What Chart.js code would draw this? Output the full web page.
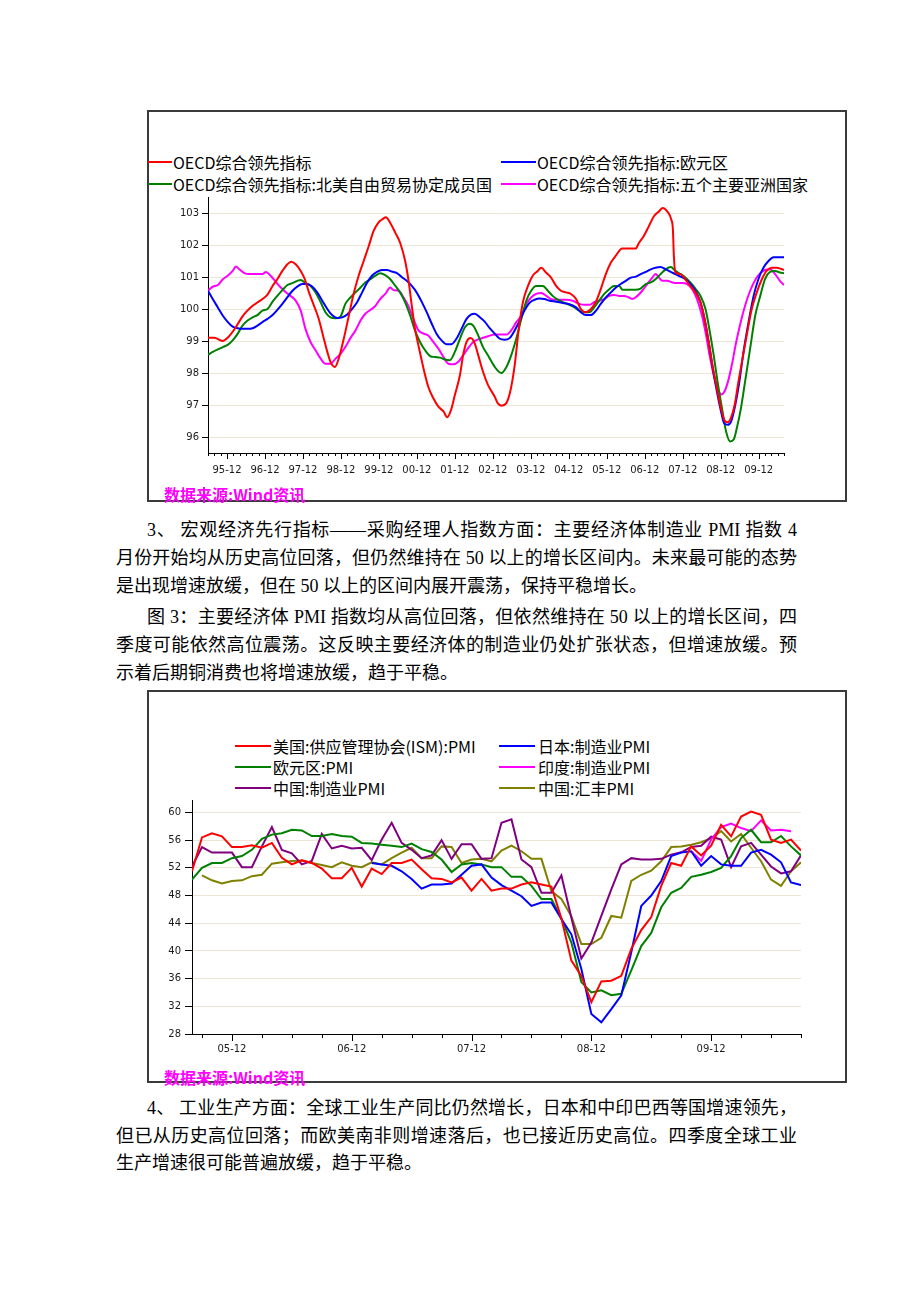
<!DOCTYPE html>
<html>
<head>
<meta charset="utf-8">
<script src="https://cdn.jsdelivr.net/npm/chart.js@4.4.1/dist/chart.umd.min.js"></script>
<style>
  body { margin: 0; background: #fff; }
  .page { position: relative; width: 920px; height: 1302px; overflow: hidden; }
  .frame { position: absolute; left: 147px; width: 696px; border: 2px solid #3a3a3a; }
  .ln { position: absolute; height: 28px; line-height: 28px; font-size: 18px; white-space: nowrap; color: #000;
        font-family: "Liberation Serif", "Noto Sans CJK SC", serif; }
  .ln.j { text-align: justify; text-align-last: justify; }
  .lg { position: absolute; height: 20px; line-height: 20px; font-size: 16px; white-space: nowrap; color: #000;
        font-family: "Noto Sans CJK SC", sans-serif; }
  .sw { position: absolute; height: 2px; }
  .src { position: absolute; left: 164px; height: 20px; line-height: 20px; font: bold 16px "Noto Sans CJK SC", sans-serif; color: #f0f; }
  canvas { position: absolute; }
</style>
</head>
<body>
<div class="page">
  <!-- chart 1 -->
  <div class="frame" style="top:110px;height:388px"></div>
  <div class="sw" style="left:148px;top:161px;width:24px;background:#f00"></div>
  <div class="lg" style="left:173px;top:152px">OECD综合领先指标</div>
  <div class="sw" style="left:501px;top:161px;width:35px;background:#00f"></div>
  <div class="lg" style="left:537px;top:152px">OECD综合领先指标:欧元区</div>
  <div class="sw" style="left:148px;top:183px;width:24px;background:#008000"></div>
  <div class="lg" style="left:173px;top:174px">OECD综合领先指标:北美自由贸易协定成员国</div>
  <div class="sw" style="left:501px;top:183px;width:35px;background:#f0f"></div>
  <div class="lg" style="left:537px;top:174px">OECD综合领先指标:五个主要亚洲国家</div>
  <canvas id="oecdChart" width="645" height="300" style="left:150px;top:188px"></canvas>
  <div class="src" style="top:482px">数据来源:Wind资讯</div>

  <div class="ln j" style="left:147px;top:516px;width:650px">3、 宏观经济先行指标——采购经理人指数方面：主要经济体制造业 PMI 指数 4</div>
  <div class="ln j" style="left:116px;top:544px;width:681px">月份开始均从历史高位回落，但仍然维持在 50 以上的增长区间内。未来最可能的态势</div>
  <div class="ln" style="left:116px;top:572px">是出现增速放缓，但在 50 以上的区间内展开震荡，保持平稳增长。</div>
  <div class="ln j" style="left:147px;top:603px;width:650px">图 3：主要经济体 PMI 指数均从高位回落，但依然维持在 50 以上的增长区间，四</div>
  <div class="ln j" style="left:116px;top:631px;width:681px">季度可能依然高位震荡。这反映主要经济体的制造业仍处扩张状态，但增速放缓。预</div>
  <div class="ln" style="left:116px;top:659px">示着后期铜消费也将增速放缓，趋于平稳。</div>

  <!-- chart 2 -->
  <div class="frame" style="top:690px;height:389px"></div>
  <div class="sw" style="left:235px;top:745px;width:36px;background:#f00"></div>
  <div class="lg" style="left:273px;top:736px">美国:供应管理协会(ISM):PMI</div>
  <div class="sw" style="left:499px;top:745px;width:36px;background:#00f"></div>
  <div class="lg" style="left:538px;top:736px">日本:制造业PMI</div>
  <div class="sw" style="left:235px;top:766px;width:36px;background:#008000"></div>
  <div class="lg" style="left:273px;top:757px">欧元区:PMI</div>
  <div class="sw" style="left:499px;top:766px;width:36px;background:#f0f"></div>
  <div class="lg" style="left:538px;top:757px">印度:制造业PMI</div>
  <div class="sw" style="left:235px;top:787px;width:36px;background:#800080"></div>
  <div class="lg" style="left:273px;top:778px">中国:制造业PMI</div>
  <div class="sw" style="left:499px;top:787px;width:36px;background:#808000"></div>
  <div class="lg" style="left:538px;top:778px">中国:汇丰PMI</div>
  <canvas id="pmiChart" width="660" height="270" style="left:150px;top:790px"></canvas>
  <div class="src" style="top:1065px">数据来源:Wind资讯</div>

  <div class="ln j" style="left:147px;top:1094px;width:650px">4、 工业生产方面：全球工业生产同比仍然增长，日本和中印巴西等国增速领先，</div>
  <div class="ln j" style="left:116px;top:1122px;width:681px">但已从历史高位回落；而欧美南非则增速落后，也已接近历史高位。四季度全球工业</div>
  <div class="ln" style="left:116px;top:1149px">生产增速很可能普遍放缓，趋于平稳。</div>
</div>

<script>
// chart 1: OECD composite leading indicators, [months since 1995-06, value]
const oecdTickLabels = ['95-12', '96-12', '97-12', '98-12', '99-12', '00-12', '01-12', '02-12',
  '03-12', '04-12', '05-12', '06-12', '07-12', '08-12', '09-12'];
const oecdYTicks = [96, 97, 98, 99, 100, 101, 102, 103];

const oecdTotal = [[0,99.1],[2,99.1],[4.6,99.0],[6.2,99.1],[8.8,99.43],[10.7,99.74],[12,99.9],[14.1,100.1],[15.7,100.21],[17.2,100.31],[18.8,100.45],[20.4,100.72],[21.9,100.93],[23.5,101.19],[25.1,101.4],[26.3,101.48],[27.7,101.4],[29.3,101.19],[30.6,100.93],[31.9,100.52],[33.5,100.1],[35,99.69],[36.6,99.07],[37.7,98.66],[38.7,98.35],[40.1,98.19],[41.3,98.45],[42.9,99.07],[44.5,99.79],[46,100.47],[47.6,101.04],[49.2,101.5],[50.8,101.97],[52.3,102.43],[53.9,102.71],[55.2,102.81],[56.2,102.87],[57.6,102.69],[59.2,102.38],[60.7,102.07],[62.3,101.5],[63.3,100.93],[64.4,100.1],[65.4,99.38],[66.5,98.86],[68.1,98.14],[69.6,97.57],[71.2,97.21],[72.8,96.95],[74.4,96.8],[75.6,96.62],[76.8,96.85],[78,97.31],[79.6,97.93],[80.6,98.55],[81.7,98.97],[83,99.09],[84.3,98.92],[85.4,98.55],[86.9,98.04],[88.5,97.62],[90.6,97.26],[91.6,97.05],[92.7,96.98],[94.2,97.05],[95.5,97.42],[96.9,98.24],[98.2,99.38],[99.5,100.21],[101.1,100.72],[102.6,101.04],[104.2,101.19],[105.3,101.29],[106.8,101.14],[108.4,100.98],[110,100.72],[111.5,100.57],[113.1,100.52],[114.7,100.47],[116.3,100.31],[117.8,100.0],[119.4,99.9],[121,100.0],[122.5,100.21],[124.1,100.62],[125.7,101.09],[127.3,101.45],[128.8,101.66],[130.9,101.89],[133,101.89],[135.1,101.89],[136.2,102.07],[137.7,102.28],[139.3,102.59],[140.9,102.9],[142.5,103.05],[143.7,103.16],[145.1,103.05],[146.4,102.79],[146.9,102.48],[147.2,101.66],[147.7,101.14],[149.3,101.09],[150.8,100.93],[152.4,100.72],[154,100.52],[155.6,100.21],[156.9,99.69],[158.2,98.97],[159.4,98.24],[160.8,97.52],[162.1,96.9],[163.1,96.54],[164.2,96.46],[165.2,96.59],[166.4,97.0],[167.6,97.73],[168.9,98.45],[170.2,99.17],[171.8,100.0],[173.4,100.52],[175,100.93],[176.5,101.19],[178.1,101.29],[179.7,101.29],[181.2,101.25],[182,101.22]];

const oecdEuro = [[0,100.57],[1.5,100.31],[3.1,100.05],[4.7,99.79],[6.2,99.6],[7.8,99.45],[9.4,99.4],[10.9,99.38],[12.5,99.38],[14.1,99.4],[15.6,99.48],[17.2,99.59],[18.8,99.69],[20.4,99.81],[21.9,99.97],[23.5,100.16],[25.1,100.37],[26.7,100.57],[28.2,100.7],[29.8,100.78],[31.4,100.78],[32.9,100.7],[34.5,100.52],[36.1,100.26],[37.7,100.0],[39.2,99.81],[40.8,99.72],[42.4,99.74],[44,99.83],[45.5,100.0],[47.1,100.21],[48.7,100.52],[50.2,100.81],[51.8,101.04],[53.4,101.16],[54.9,101.22],[56.5,101.22],[58.1,101.17],[59.7,101.12],[61.2,101.0],[62.8,100.88],[64.4,100.72],[65.9,100.52],[67.5,100.23],[69.1,99.9],[70.7,99.54],[72.2,99.23],[73.8,99.02],[75.4,98.9],[76.9,98.9],[78.5,99.07],[80.1,99.38],[81.7,99.69],[83.2,99.83],[84.3,99.85],[85.9,99.74],[87.5,99.6],[89,99.4],[90.6,99.23],[92.2,99.07],[93.7,99.04],[95.3,99.09],[96.9,99.33],[98.5,99.64],[100,99.95],[101.6,100.19],[103.2,100.29],[104.8,100.33],[106.3,100.31],[107.9,100.26],[110,100.23],[112.1,100.19],[114.2,100.15],[116.3,100.05],[117.8,99.9],[119.4,99.81],[121,99.81],[122.6,99.95],[124.1,100.16],[125.7,100.36],[127.3,100.52],[128.9,100.67],[130.4,100.78],[132,100.88],[133.6,100.98],[135.2,101.01],[136.7,101.09],[138.3,101.16],[139.9,101.24],[141.4,101.29],[143,101.31],[144.6,101.24],[146.2,101.16],[147.7,101.09],[149.3,101.01],[150.9,100.93],[152.5,100.78],[154,100.57],[155.6,100.21],[156.9,99.69],[158.2,98.97],[159.5,98.14],[160.8,97.42],[162.1,96.8],[163.1,96.43],[164.2,96.38],[165.3,96.49],[166.6,97.0],[167.9,97.73],[169.2,98.66],[170.8,99.59],[172.4,100.41],[173.9,100.93],[175.5,101.29],[177.1,101.5],[178.7,101.62],[180.2,101.62],[182,101.62]];

const oecdNafta = [[0,98.57],[1.5,98.66],[3.1,98.74],[4.7,98.81],[6.2,98.88],[7.8,99.02],[9.4,99.23],[10.9,99.48],[12.5,99.64],[14.1,99.74],[15.6,99.81],[17.2,99.95],[18.8,100.0],[20.4,100.23],[21.9,100.41],[23.5,100.59],[25.1,100.75],[26.7,100.81],[28.2,100.88],[29.3,100.91],[30.8,100.81],[32.4,100.72],[34,100.52],[35.6,100.21],[37.1,99.9],[38.7,99.74],[40.3,99.71],[41.9,99.77],[43.4,100.16],[45,100.36],[46.6,100.52],[48.2,100.67],[49.7,100.83],[51.3,100.93],[52.9,101.04],[54.4,101.12],[56,101.06],[57.6,100.93],[59.2,100.72],[60.7,100.52],[62.3,100.21],[63.9,99.79],[65.4,99.33],[67,98.97],[68.6,98.71],[70.2,98.53],[71.7,98.5],[73.3,98.48],[74.9,98.42],[76.4,98.4],[78,98.66],[79.6,99.07],[81.2,99.43],[82.7,99.54],[83.8,99.48],[85.4,99.17],[86.9,98.81],[88.5,98.55],[90.6,98.19],[92.7,98.0],[94.3,98.19],[95.8,98.55],[97.4,99.07],[99,99.69],[100.6,100.26],[102.1,100.57],[103.7,100.72],[105.8,100.72],[107.4,100.57],[108.9,100.41],[110.5,100.29],[112.1,100.21],[114.2,100.13],[115.8,100.05],[117.3,99.95],[118.9,99.9],[120.5,99.9],[122,100.05],[123.6,100.26],[125.2,100.47],[126.8,100.62],[128.3,100.72],[129.9,100.72],[131,100.6],[133,100.6],[135.1,100.6],[136.7,100.64],[138.3,100.78],[139.9,100.83],[141.4,100.93],[143,101.09],[144.6,101.24],[146.2,101.31],[147.7,101.19],[149.3,101.09],[150.9,100.98],[152.4,100.83],[154,100.64],[155.6,100.41],[157.2,100.0],[158.4,99.38],[159.8,98.55],[161,97.73],[162.4,96.9],[163.7,96.17],[165,95.86],[166.1,95.92],[167.1,96.28],[168.4,96.9],[169.7,97.73],[171.3,98.76],[172.9,99.79],[174.5,100.41],[176,100.93],[177.6,101.16],[179.2,101.19],[180.7,101.14],[182,101.12]];

const oecdAsia = [[0,100.57],[1.5,100.7],[3.1,100.75],[4.7,100.93],[6.2,101.04],[7.8,101.19],[8.8,101.33],[9.9,101.24],[11.5,101.12],[13,101.09],[15.1,101.09],[17.2,101.09],[18.3,101.16],[19.8,101.04],[21.4,100.85],[23,100.67],[24.6,100.52],[26.1,100.41],[27.7,100.26],[29.3,99.95],[30.8,99.38],[32.4,98.97],[34,98.71],[35.6,98.45],[37.1,98.29],[38.7,98.29],[40.3,98.45],[41.9,98.6],[43.4,98.81],[45,99.09],[46.6,99.33],[48.2,99.64],[49.7,99.85],[51.3,99.97],[52.9,100.1],[54.4,100.31],[56,100.47],[57.6,100.67],[58.6,100.59],[60.2,100.57],[61.8,100.36],[63.3,100.1],[64.9,99.69],[66.5,99.33],[68.1,99.23],[69.6,99.17],[71.2,98.97],[72.8,98.76],[74.4,98.5],[75.9,98.29],[77.5,98.27],[79.1,98.35],[80.6,98.55],[82.2,98.78],[83.8,98.97],[85.4,99.05],[86.9,99.1],[88.5,99.15],[90.6,99.2],[92.2,99.2],[94.3,99.2],[95.8,99.33],[97.4,99.59],[99,99.79],[100.6,100.16],[102.1,100.36],[103.7,100.47],[105.3,100.5],[106.9,100.41],[108.4,100.31],[110,100.29],[113.1,100.29],[115.2,100.26],[117.3,100.16],[118.9,100.13],[120.5,100.13],[122,100.21],[123.6,100.26],[125.2,100.31],[126.8,100.41],[128.3,100.44],[129.9,100.41],[131.5,100.41],[133,100.36],[134.1,100.31],[135.7,100.41],[137.2,100.57],[138.8,100.78],[140.4,100.98],[141.4,101.09],[142.5,100.98],[143.5,100.88],[145.1,100.88],[146.7,100.83],[148.3,100.81],[149.8,100.81],[151.4,100.78],[153,100.62],[154.5,100.31],[156.1,99.79],[157.4,99.17],[158.5,98.55],[159.8,97.93],[161.2,97.47],[162.2,97.33],[163.2,97.42],[164.3,97.73],[165.5,98.24],[166.8,98.92],[168.2,99.54],[169.7,100.1],[171.3,100.57],[172.9,100.91],[174.5,101.12],[176,101.22],[177.6,101.24],[179.2,101.09],[180.7,100.88],[182,100.75]];

// chart 2: manufacturing PMI, one value per month from 2005-08 to 2010-09
const pmiTickLabels = ['05-12', '06-12', '07-12', '08-12', '09-12'];
const pmiYTicks = [28, 32, 36, 40, 44, 48, 52, 56, 60];

const usIsm = [51.5,56.4,57.0,56.55,55.0,55.0,55.25,54.9,55.6,53.45,52.5,53.1,52.7,51.9,50.5,50.5,
  52.0,49.3,51.9,51.1,52.7,52.7,53.2,51.8,50.5,50.4,49.9,50.6,48.7,50.4,48.7,
  49.0,49.0,49.6,49.9,49.6,49.3,44.7,38.6,36.4,32.6,35.6,35.7,36.4,40.3,43.0,44.9,
  49.4,52.7,52.3,55.1,53.8,55.2,58.2,56.55,59.4,60.14,59.66,56.07,55.6,56.07,54.5];
const japanPmi = [null,null,null,null,null,null,null,null,null,null,null,null,null,null,null,null,null,null,
  52.7,52.5,52.3,51.5,50.4,49.0,49.6,49.6,49.75,51.0,52.3,52.5,50.6,
  49.5,48.7,47.9,46.5,47.0,47.0,44.6,42.4,37.4,30.9,29.7,31.6,33.6,39.8,46.5,48.0,
  50.1,53.7,54.2,54.4,52.3,53.7,52.5,52.3,52.3,54.2,54.6,53.9,52.8,49.9,49.5];
const euroPmi = [50.3,52.0,52.7,52.7,53.4,53.7,54.6,56.2,56.8,57.0,57.5,57.4,56.6,56.6,56.9,56.6,
  56.5,55.6,55.5,55.35,55.2,55.0,55.5,54.7,54.3,53.2,51.4,52.5,52.7,52.5,52.1,
  52.1,50.7,50.7,49.4,47.5,47.5,44.7,41.2,35.5,34.0,34.3,33.6,33.8,37.2,40.7,42.6,
  46.3,48.4,49.1,50.7,51.0,51.4,52.0,53.7,56.3,57.5,55.7,55.7,56.6,55.1,53.8];
const indiaPmi = [null,null,null,null,null,null,null,null,null,null,null,null,null,null,null,null,null,null,null,null,
  null,null,null,null,null,null,null,null,null,null,null,null,null,null,null,null,null,null,null,null,
  null,null,null,null,null,null,null,null,null,null,
  54.4,53.0,56.1,57.9,58.4,57.75,57.3,58.85,57.4,57.5,57.3,null];
const chinaPmi = [52.2,55.0,54.2,54.2,54.2,52.1,52.1,55.1,57.9,54.6,54.1,52.5,53.0,56.9,54.8,55.2,
  54.8,54.9,53.1,56.1,58.5,55.6,54.6,53.4,53.8,56.0,53.3,55.4,55.4,53.3,53.4,
  58.5,59.0,53.2,52.1,48.4,48.4,50.9,44.8,38.9,41.2,45.05,48.9,52.5,53.4,53.2,53.2,
  53.3,53.9,54.25,55.0,55.2,56.5,56.1,52.1,55.1,55.6,53.9,52.2,51.2,51.5,53.8];
const hsbcPmi = [null,50.9,50.2,49.75,50.1,50.2,50.8,51.0,52.6,52.8,53.0,53.05,52.7,52.4,52.1,52.8,
  52.3,52.1,52.8,52.5,53.4,54.2,54.9,53.4,53.4,55.1,55.0,52.7,53.2,53.3,52.95,
  54.5,55.2,54.4,53.3,53.3,48.6,47.5,45.0,41.0,41.0,41.9,45.05,44.8,50.1,51.0,51.6,
  52.95,55.0,55.1,55.35,55.7,56.3,57.3,55.8,56.9,54.9,52.95,50.3,49.4,51.5,52.8];

Chart.defaults.font.family = '"DejaVu Sans", sans-serif';
Chart.defaults.font.size = 10;
Chart.defaults.color = '#1a1a1a';

// short ticks under the x axis, longer where a label sits
const tickMarks = {
  id: 'tickMarks',
  afterDraw(chart, args, opts) {
    const sx = chart.scales.x;
    const ctx = chart.ctx;
    ctx.save();
    ctx.strokeStyle = '#000';
    ctx.lineWidth = 1;
    sx.ticks.forEach(t => {
      const px = Math.round(sx.getPixelForValue(t.value)) + 0.5;
      const len = t.label ? opts.major : opts.minor;
      ctx.beginPath();
      ctx.moveTo(px, sx.top);
      ctx.lineTo(px, sx.top + len);
      ctx.stroke();
    });
    ctx.restore();
  }
};

function toPoints(pairs) {
  return pairs.map(p => ({ x: p[0], y: p[1] }));
}

function monthly(values) {
  return values.map((v, i) => ({ x: i, y: v }));
}

function lineSet(label, data, color, extra) {
  return Object.assign({
    label: label,
    data: data,
    borderColor: color,
    backgroundColor: color,
    borderWidth: 2,
    pointRadius: 0,
    fill: false
  }, extra || {});
}

function buildChart(canvas, cfg) {
  return new Chart(canvas.getContext('2d'), {
    type: 'line',
    data: { datasets: cfg.datasets },
    plugins: [tickMarks],
    options: {
      responsive: false,
      animation: false,
      layout: { padding: cfg.padding },
      plugins: {
        legend: { display: false },
        tooltip: { enabled: false },
        tickMarks: cfg.marks
      },
      scales: {
        x: {
          type: 'linear',
          min: cfg.xMin,
          max: cfg.xMax,
          grid: { display: false, drawTicks: false },
          border: { display: true, color: '#000', width: 1 },
          ticks: {
            autoSkip: false,
            maxRotation: 0,
            padding: cfg.xPad,
            callback: v => cfg.xLabel(v)
          },
          afterBuildTicks: s => { s.ticks = cfg.xTicks.map(v => ({ value: v })); },
          afterFit: s => { s.height = cfg.xHeight; }
        },
        y: {
          min: cfg.yMin,
          max: cfg.yMax,
          grid: { color: '#ede6d6', lineWidth: 1, tickColor: '#000', tickLength: cfg.yTick },
          border: { display: true, color: '#000', width: 1 },
          ticks: { padding: cfg.yPad },
          afterBuildTicks: s => { s.ticks = cfg.yTicks.map(v => ({ value: v })); },
          afterFit: s => { s.width = cfg.yWidth; }
        }
      }
    }
  });
}

const oecdXTicks = [];
for (let m = 0; m <= 182; m += 2) oecdXTicks.push(m);

buildChart(document.getElementById('oecdChart'), {
  datasets: [
    lineSet('OECD综合领先指标', toPoints(oecdTotal), '#ff0000', { cubicInterpolationMode: 'monotone' }),
    lineSet('OECD综合领先指标:欧元区', toPoints(oecdEuro), '#0000ff', { cubicInterpolationMode: 'monotone' }),
    lineSet('OECD综合领先指标:北美自由贸易协定成员国', toPoints(oecdNafta), '#008000', { cubicInterpolationMode: 'monotone' }),
    lineSet('OECD综合领先指标:五个主要亚洲国家', toPoints(oecdAsia), '#ff00ff', { cubicInterpolationMode: 'monotone' })
  ],
  padding: { left: 0, right: 9, top: 7, bottom: 5 },
  xMin: 0, xMax: 182, xTicks: oecdXTicks, xPad: 11, xHeight: 30,
  xLabel: v => ((v - 6) % 12 === 0 ? oecdTickLabels[(v - 6) / 12] : ''),
  yMin: 95.5, yMax: 103.5, yTicks: oecdYTicks, yTick: 6, yPad: 3, yWidth: 58,
  marks: { minor: 3, major: 6 }
});

const pmiXTicks = [];
for (let m = 1; m <= 61; m += 3) pmiXTicks.push(m);

buildChart(document.getElementById('pmiChart'), {
  datasets: [
    lineSet('美国:供应管理协会(ISM):PMI', monthly(usIsm), '#ff0000'),
    lineSet('日本:制造业PMI', monthly(japanPmi), '#0000ff'),
    lineSet('欧元区:PMI', monthly(euroPmi), '#008000'),
    lineSet('印度:制造业PMI', monthly(indiaPmi), '#ff00ff'),
    lineSet('中国:制造业PMI', monthly(chinaPmi), '#800080'),
    lineSet('中国:汇丰PMI', monthly(hsbcPmi), '#808000')
  ],
  padding: { left: 0, right: 8, top: 8, bottom: 4 },
  xMin: 0, xMax: 61, xTicks: pmiXTicks, xPad: 9, xHeight: 22,
  xLabel: v => ((v - 4) % 12 === 0 ? pmiTickLabels[(v - 4) / 12] : ''),
  yMin: 28, yMax: 61.8, yTicks: pmiYTicks, yTick: 7, yPad: 4, yWidth: 42,
  marks: { minor: 4, major: 7 }
});
</script>
</body>
</html>
